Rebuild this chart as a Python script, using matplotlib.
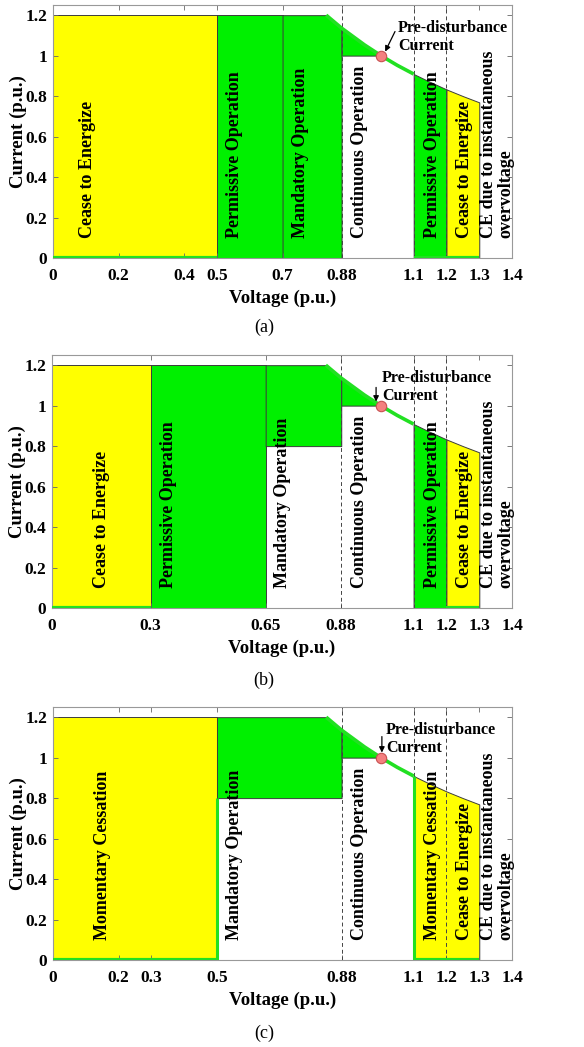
import numpy as np
import matplotlib
matplotlib.use("Agg")
import matplotlib.pyplot as plt

plt.rcParams['font.family'] = ['Liberation Serif', 'DejaVu Serif']
plt.rcParams['font.weight'] = 'bold'

# current limit envelope (min of 1.2 and constant-power curve)
v_env = [0.0, 0.833, 0.88, 0.95, 1.0, 1.05, 1.1, 1.15, 1.2, 1.25, 1.3, 1.4]
i_env = [1.2, 1.2, 1.136, 1.053, 1.0, 0.952, 0.909, 0.87, 0.833, 0.8, 0.769, 0.714]

pre_v, pre_i = 1.0, 1.0

# panel (a)
a_spans = [(0, 0.5), (0.5, 0.7), (0.7, 0.88), (0.88, 1.0), (1.1, 1.2), (1.2, 1.3)]
a_lower = [0, 0, 0, 1.0, 0, 0]
a_kind = ['Y', 'G', 'G', 'G', 'G', 'Y']
a_labels = ['Cease to Energize', 'Permissive Operation', 'Mandatory Operation',
            'Continuous Operation', 'Permissive Operation', 'Cease to Energize',
            'CE due to instantaneous\novervoltage']
a_label_v = [0.104, 0.555, 0.756, 0.936, 1.156, 1.254, 1.354]
a_xticks = [0, 0.2, 0.4, 0.5, 0.7, 0.88, 1.1, 1.2, 1.3, 1.4]
a_zero = [(0, 0.5), (1.1, 1.3)]
a_vert = []

# panel (b)
b_spans = [(0, 0.3), (0.3, 0.65), (0.65, 0.88), (0.88, 1.0), (1.1, 1.2), (1.2, 1.3)]
b_lower = [0, 0, 0.8, 1.0, 0, 0]
b_kind = ['Y', 'G', 'G', 'G', 'G', 'Y']
b_labels = ['Cease to Energize', 'Permissive Operation', 'Mandatory Operation',
            'Continuous Operation', 'Permissive Operation', 'Cease to Energize',
            'CE due to instantaneous\novervoltage']
b_label_v = [0.152, 0.353, 0.70, 0.935, 1.157, 1.254, 1.354]
b_xticks = [0, 0.3, 0.65, 0.88, 1.1, 1.2, 1.3, 1.4]
b_zero = [(0, 0.3), (1.2, 1.3)]
b_vert = []

# panel (c)
c_spans = [(0, 0.5), (0.5, 0.88), (0.88, 1.0), (1.1, 1.3)]
c_lower = [0, 0.8, 1.0, 0]
c_kind = ['Y', 'G', 'G', 'Y']
c_labels = ['Momentary Cessation', 'Mandatory Operation', 'Continuous Operation',
            'Momentary Cessation', 'Cease to Energize',
            'CE due to instantaneous\novervoltage']
c_label_v = [0.15, 0.555, 0.936, 1.156, 1.254, 1.354]
c_xticks = [0, 0.2, 0.3, 0.5, 0.88, 1.1, 1.2, 1.3, 1.4]
c_zero = [(0, 0.5), (1.1, 1.3)]
c_vert = [(0.5, 0.8), (1.1, 0.909)]

# annotation: text anchor, arrow start, arrow end
a_note = [(1.052, 1.093), (1.043, 1.119), (1.013, 1.02)]
b_note = [(1.004, 1.092), (0.986, 1.09), (0.986, 1.02)]
c_note = [(1.016, 1.094), (1.003, 1.104), (1.003, 1.025)]

dashed_v = [0.88, 1.1, 1.2]
yticks = [0, 0.2, 0.4, 0.6, 0.8, 1.0, 1.2]

YEL = '#ffff00'
GRN = '#00f000'
TRAJ = '#22e022'
EDGE = '#3c3c3c'

fig = plt.figure(figsize=(5.84, 10.47), dpi=100)


def envelope(x):
    return np.interp(x, v_env, i_env)


def draw_panel(pos, spans, lower, kind, labels, label_v, xticks, zero, vert, note, cap, cap_y):
    ax = fig.add_axes(pos)
    for (v0, v1), lo, k in zip(spans, lower, kind):
        inner = [v for v in v_env if v0 < v < v1]
        xs = np.array([v0] + inner + [v1])
        ax.fill_between(xs, lo, envelope(xs), facecolor=YEL if k == 'Y' else GRN,
                        edgecolor=EDGE, linewidth=0.7, zorder=1)
    for v in dashed_v:
        ax.axvline(v, color='#444444', ls=(0, (4, 3)), lw=0.7, zorder=2)
    # green trajectory
    for v0, v1 in zero:
        ax.plot([v0, v1], [0, 0], color=TRAJ, lw=3, zorder=3, solid_capstyle='butt')
    for v, top in vert:
        ax.plot([v, v], [0, top], color=TRAJ, lw=2.2, zorder=3, solid_capstyle='butt')
    cv = [v for v in v_env if 0.833 <= v <= 1.1]
    ax.plot(cv, envelope(cv), color=TRAJ, lw=2.6, zorder=3, solid_capstyle='butt')
    ax.plot([pre_v], [pre_i], 'o', ms=7.5, mfc='#f48080', mec='#c85050', mew=0.8, zorder=5)
    ax.annotate('', xy=note[2], xytext=note[1],
                arrowprops=dict(arrowstyle='-|>', color='k', lw=0.9, mutation_scale=8,
                                shrinkA=0, shrinkB=0), zorder=6)
    ax.text(note[0][0], note[0][1], 'Pre-disturbance\nCurrent', ha='left', va='center',
            fontsize=11.5, fontweight='bold', linespacing=1.15, zorder=6)
    for lab, v in zip(labels, label_v):
        ax.text(v, 0.1, lab, rotation=90, ha='center', va='bottom', fontsize=13,
                fontweight='bold', multialignment='left', linespacing=1.0, zorder=6)
    ax.set_xlim(0, 1.4)
    ax.set_ylim(0, 1.25)
    ax.set_xticks(xticks)
    ax.set_xticklabels(['%g' % t for t in xticks])
    ax.set_yticks(yticks)
    ax.set_yticklabels(['%g' % t for t in yticks])
    ax.tick_params(direction='in', top=True, right=True, length=3.5, width=0.6,
                   color='#666666', labelsize=12.5)
    ax.tick_params(axis='x', pad=7)
    ax.tick_params(axis='y', pad=4)
    for s in ax.spines.values():
        s.set_color('#999999')
        s.set_linewidth(0.8)
    ax.set_xlabel('Voltage (p.u.)', fontsize=13.5, fontweight='bold', labelpad=4)
    ax.set_ylabel('Current (p.u.)', fontsize=13.5, fontweight='bold', labelpad=-1)
    fig.text(0.452, cap_y, cap, ha='center', va='center', fontsize=13, fontweight='normal')
    return ax


draw_panel([0.0908, 0.7536, 0.786, 0.2416], a_spans, a_lower, a_kind, a_labels, a_label_v,
           a_xticks, a_zero, a_vert, a_note, '(a)', 0.687)
draw_panel([0.0890, 0.4193, 0.788, 0.2416], b_spans, b_lower, b_kind, b_labels, b_label_v,
           b_xticks, b_zero, b_vert, b_note, '(b)', 0.3505)
draw_panel([0.0908, 0.0831, 0.786, 0.2416], c_spans, c_lower, c_kind, c_labels, c_label_v,
           c_xticks, c_zero, c_vert, c_note, '(c)', 0.0134)

fig.savefig('out.png', dpi=100)
